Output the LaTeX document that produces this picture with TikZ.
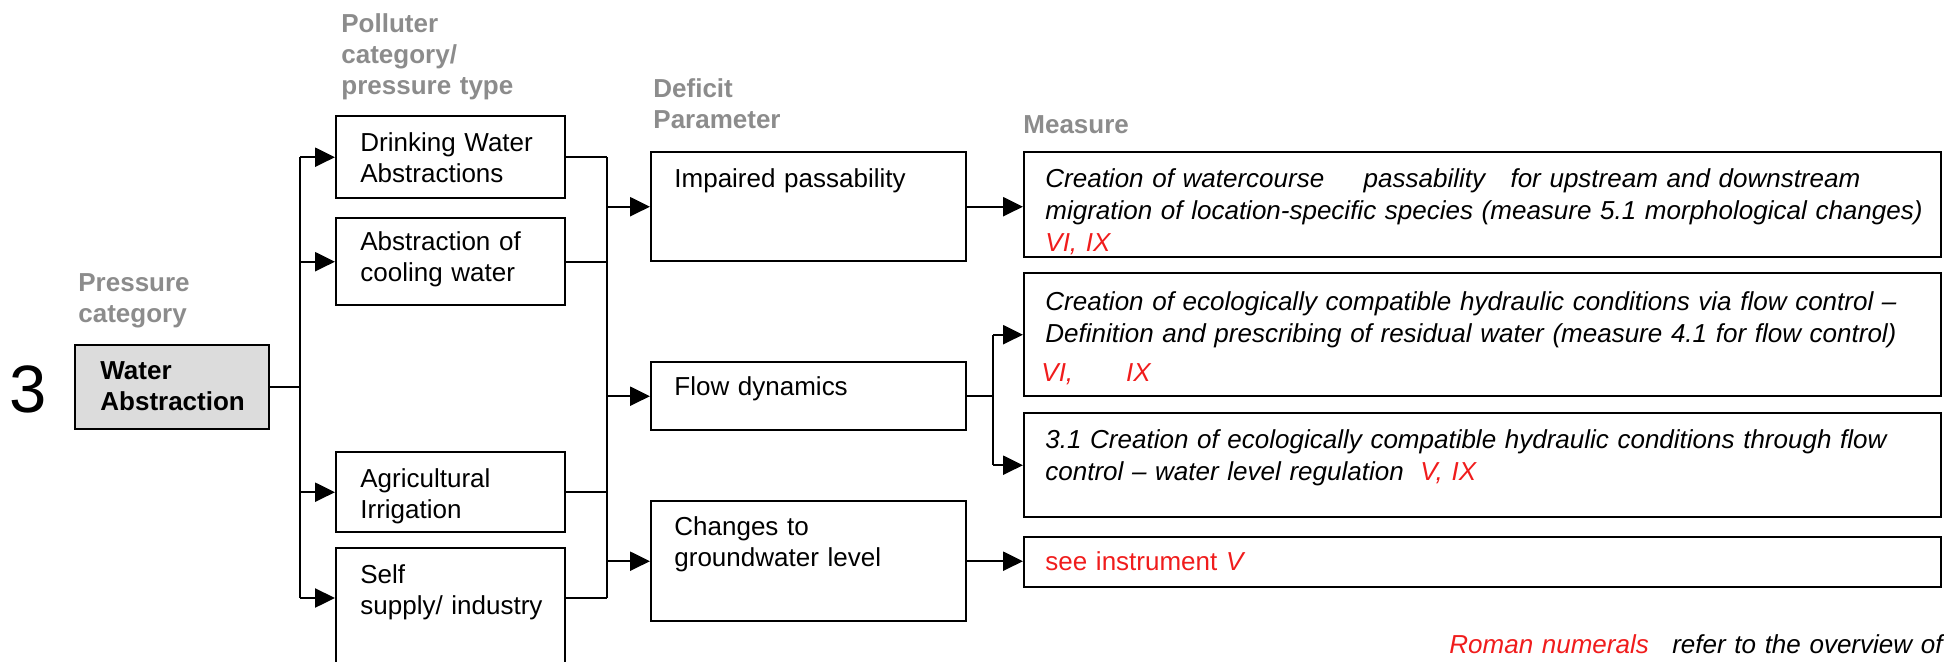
\documentclass[tikz,border=0pt]{standalone}
\usepackage{fontspec}
\setmainfont{Liberation Sans}
\usetikzlibrary{arrows.meta,calc}
\definecolor{hdr}{RGB}{140,140,140}
\definecolor{note}{RGB}{240,28,28}
\definecolor{wafill}{RGB}{220,220,220}

\begin{document}
\begin{tikzpicture}[x=0.5pt,y=-0.5pt,
  box/.style={draw, line width=1.2pt, inner sep=0pt, anchor=north west},
  conn/.style={line width=1.2pt},
  arr/.style={line width=1.2pt,-{Triangle[length=10pt,width=9.5pt]}},
  lab/.style={anchor=base west, inner sep=0pt, align=left, text width=#1,
              font=\fontsize{13pt}{15.5pt}\selectfont},
  lab/.default=150pt,
  hd/.style={lab, font=\fontsize{13pt}{15.5pt}\selectfont\bfseries, text=hdr},
  ms/.style={lab=460pt, font=\fontsize{13pt}{16pt}\selectfont\itshape}]
\useasboundingbox (0,0) rectangle (1944,661);
\clip (0,0) rectangle (1944,661);

% column headings
\node[hd] (hpres) at (78,291) {Pressure\\category};
\node[hd] (hpoll) at (341,32) {Polluter\\category/\\pressure type};
\node[hd] (hdef)  at (653,97) {Deficit\\Parameter};
\node[hd] (hmeas) at (1023,133) {Measure};

% pressure category
\node[anchor=base west, inner sep=0pt, font=\fontsize{33.5pt}{36pt}\selectfont] (num) at (9,412) {3};
\node[box, fill=wafill, minimum width=97pt, minimum height=42pt] (wa) at (74,344) {};
\node[lab, font=\fontsize{13pt}{15.5pt}\selectfont\bfseries] (watxt) at (100,379) {Water\\Abstraction};

% polluter categories
\node[box, minimum width=114.5pt, minimum height=41pt]   (dw)   at (335,115) {};
\node[box, minimum width=114.5pt, minimum height=43.5pt] (cool) at (335,217) {};
\node[box, minimum width=114.5pt, minimum height=40pt]   (agr)  at (335,451) {};
\node[box, minimum width=114.5pt, minimum height=76.5pt] (self) at (335,547) {};
\node[lab] (dwtxt)   at (360,151) {Drinking Water\\Abstractions};
\node[lab] (cooltxt) at (360,250) {Abstraction of\\cooling water};
\node[lab] (agrtxt)  at (360,487) {Agricultural\\Irrigation};
\node[lab] (selftxt) at (360,583) {Self\\supply/ industry};

% deficit parameters
\node[box, minimum width=157.5pt, minimum height=54.5pt] (imp)  at (650,151) {};
\node[box, minimum width=157.5pt, minimum height=34pt]   (flow) at (650,361) {};
\node[box, minimum width=157.5pt, minimum height=60pt]   (chg)  at (650,500) {};
\node[lab] (imptxt)  at (674,187) {Impaired passability};
\node[lab] (flowtxt) at (674,395) {Flow dynamics};
\node[lab] (chgtxt)  at (674,535) {Changes to\\groundwater level};

% measures
\node[box, minimum width=458.5pt, minimum height=52.5pt] (m1) at (1023,151) {};
\node[box, minimum width=458.5pt, minimum height=61.5pt] (m2) at (1023,272) {};
\node[box, minimum width=458.5pt, minimum height=52pt]   (m3) at (1023,412) {};
\node[box, minimum width=458.5pt, minimum height=25pt]   (m4) at (1023,536) {};
\node[ms] (m1txt) at (1045,187) {Creation of watercourse\hspace{15.4pt} passability\hspace{8.4pt} for upstream and downstream\\
  migration of location-specific species (measure 5.1 morphological changes)\\
  \textcolor{note}{VI, IX}};
\node[ms] (m2txt) at (1045,310) {Creation of ecologically compatible hydraulic conditions via flow control --\\
  Definition and prescribing of residual water (measure 4.1 for flow control)};
\node[ms, text=note] (m2ref) at (1041,381) {VI,\hspace{26.5pt}IX};
\node[ms] (m3txt) at (1045,448) {3.1 Creation of ecologically compatible hydraulic conditions through flow\\
  control -- water level regulation\hspace{3.9pt} \textcolor{note}{V, IX}};
\node[lab=300pt, text=note] (m4txt) at (1045,570) {see instrument \textit{V}};

% footnote
\node[lab=270pt, font=\fontsize{13pt}{16pt}\selectfont\itshape] (foot) at (1449,653)
  {\textcolor{note}{Roman numerals}\hspace{7.4pt} refer to the overview of};

% connectors
\coordinate (trunk) at (300,0);
\coordinate (coll)  at (607,0);
\coordinate (branch) at (993,0);
\coordinate (selfin) at ($(self.north west)+(0,51)$);

\draw[conn] (wa.east) -- (trunk |- wa.east);
\draw[conn] (trunk |- dw.west) -- (trunk |- selfin);
\draw[arr] (trunk |- dw.west)   -- (dw.west);
\draw[arr] (trunk |- cool.west) -- (cool.west);
\draw[arr] (trunk |- agr.west)  -- (agr.west);
\draw[arr] (trunk |- selfin)    -- (selfin);

\draw[conn] (dw.east)   -- (coll |- dw.east);
\draw[conn] (cool.east) -- (coll |- cool.east);
\draw[conn] (agr.east)  -- (coll |- agr.east);
\draw[conn] (self.east |- selfin) -- (coll |- selfin);
\draw[conn] (coll |- dw.east) -- (coll |- selfin);
\draw[arr] (coll |- imp.west)  -- (imp.west);
\draw[arr] (coll |- flow.west) -- (flow.west);
\draw[arr] (coll |- chg.west)  -- (chg.west);

\draw[arr] (imp.east) -- (m1.west |- imp.east);
\draw[conn] (flow.east) -- (branch |- flow.east);
\draw[conn] (branch |- m2.west) -- (branch |- m3.west);
\draw[arr] (branch |- m2.west) -- (m2.west);
\draw[arr] (branch |- m3.west) -- (m3.west);
\draw[arr] (chg.east) -- (m4.west |- chg.east);
\end{tikzpicture}
\end{document}
